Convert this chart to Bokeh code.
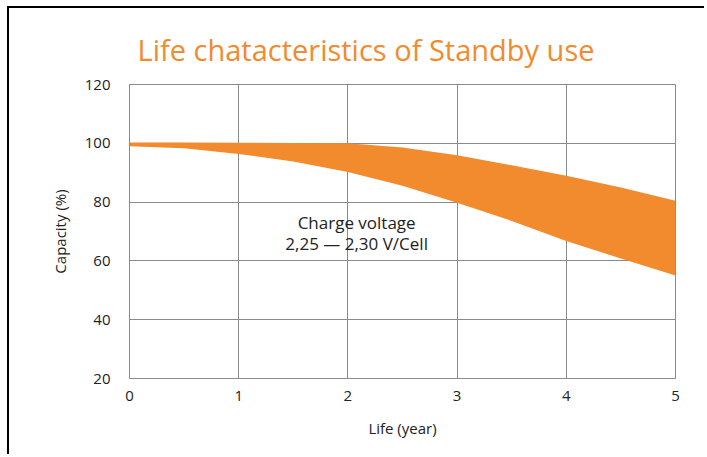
from bokeh.plotting import figure
from bokeh.models import Range1d, FixedTicker, Label, Title
from bokeh.embed import file_html
from bokeh.resources import INLINE

years = [0, 0.5, 1, 1.5, 2, 2.5, 3, 3.5, 4, 4.5, 5]
upper = [100.3, 100.3, 100.2, 100.1, 100.0, 98.6, 95.9, 92.5, 89.0, 85.0, 80.5]
lower = [99.0, 98.3, 96.4, 93.8, 90.2, 85.6, 79.8, 73.6, 66.8, 60.8, 55.0]
x_ticks = [0, 1, 2, 3, 4, 5]
y_ticks = [20, 40, 60, 80, 100, 120]

ORANGE = "#F28A2E"
GRID = "#8a8a8a"
FONT = "Open Sans"
TXT = "#222222"

p = figure(width=697, height=448, output_backend="svg", toolbar_location=None,
           x_range=Range1d(0, 5), y_range=Range1d(20, 120),
           min_border_left=120, min_border_right=31, min_border_top=76, min_border_bottom=78)

p.title = Title(text="Life chatacteristics of Standby use", align="left", offset=8,
                text_color=ORANGE, text_font=FONT, text_font_size="29px",
                text_font_style="normal", standoff=31)

p.varea(x=years, y1=lower, y2=upper, fill_color=ORANGE, fill_alpha=1.0)

p.xaxis.ticker = FixedTicker(ticks=x_ticks)
p.yaxis.ticker = FixedTicker(ticks=y_ticks)
for ax in (p.xaxis[0], p.yaxis[0]):
    ax.axis_line_color = None
    ax.major_tick_line_color = None
    ax.minor_tick_line_color = None
    ax.major_label_text_font = FONT
    ax.major_label_text_font_size = "15px"
    ax.major_label_text_color = TXT
    ax.axis_label_text_font = FONT
    ax.axis_label_text_font_size = "15px"
    ax.axis_label_text_font_style = "normal"
    ax.axis_label_text_color = TXT

p.xaxis.axis_label = "Life (year)"
p.yaxis.axis_label = "Capacity (%)"
p.xaxis.major_label_standoff = 6
p.xaxis.axis_label_standoff = 14
p.yaxis.major_label_standoff = 13
p.yaxis.axis_label_standoff = 12

p.xgrid.grid_line_color = GRID
p.ygrid.grid_line_color = GRID
p.outline_line_color = GRID
p.outline_line_width = 1

p.add_layout(Label(x=2.08, y=73.2, text="Charge voltage", text_align="center",
                   text_baseline="middle", text_font=FONT, text_font_size="17px",
                   text_color=TXT))
p.add_layout(Label(x=2.08, y=66.0, text="2,25 \u2014 2,30 V/Cell", text_align="center",
                   text_baseline="middle", text_font=FONT, text_font_size="17px",
                   text_color=TXT))

p.styles = {"margin-left": "7px", "margin-top": "6px",
            "border-top": "2px solid black", "border-left": "2px solid black"}

open("out.html", "w").write(file_html(p, INLINE))
